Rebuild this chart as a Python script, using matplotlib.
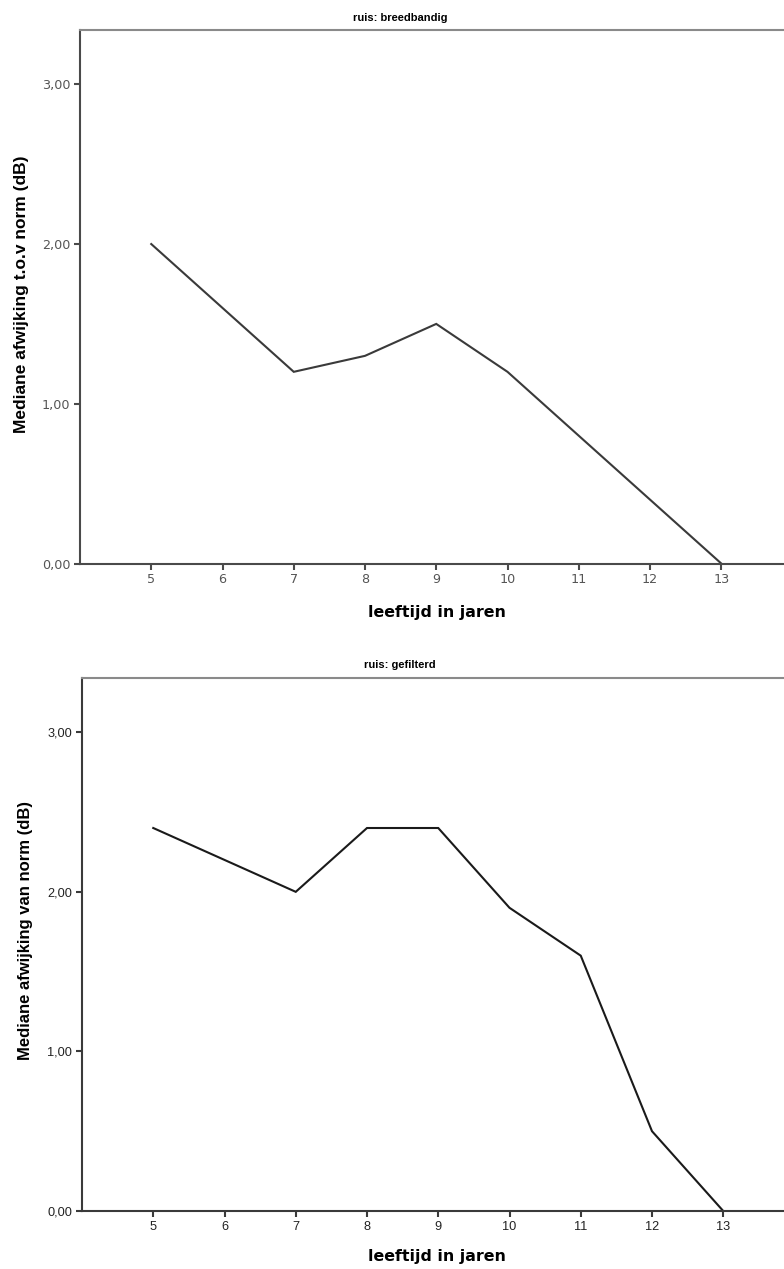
import matplotlib
matplotlib.use("Agg")
import matplotlib.pyplot as plt

ages = [5, 6, 7, 8, 9, 10, 11, 12, 13]
breedbandig = [2.0, 1.6, 1.2, 1.3, 1.5, 1.2, 0.8, 0.4, 0.0]
gefilterd = [2.4, 2.2, 2.0, 2.4, 2.4, 1.9, 1.6, 0.5, 0.0]
yticks = [0.0, 1.0, 2.0, 3.0]
ytick_labels = ["0,00", "1,00", "2,00", "3,00"]

W, H = 784, 1269
fig = plt.figure(figsize=(W / 100, H / 100), dpi=100)


def make_panel(left_px, top_px, bottom_px, data, line_color, spine_color, tick_font,
               tick_color, ylabel, title, title_y_px, xlabel_y_px, xlabel_font,
               ylabel_x_px, ylabel_y_px, ylabel_size):
    ax = fig.add_axes([left_px / W, 1 - bottom_px / H, 712.5 / W, (bottom_px - top_px) / H])
    ax.plot(ages, data, color=line_color, lw=1.5, solid_joinstyle="miter")
    ax.set_xlim(4, 14)
    ax.set_ylim(0, 3.34)
    ax.set_xticks(ages)
    ax.set_xticklabels([str(a) for a in ages], fontfamily=tick_font, fontsize=9.2, color=tick_color)
    ax.set_yticks(yticks)
    ax.set_yticklabels(ytick_labels, fontfamily=tick_font, fontsize=9.2, color=tick_color)
    ax.tick_params(direction="out", length=4, width=1.5, color=spine_color, pad=3)
    for s in ["left", "bottom"]:
        ax.spines[s].set_color(spine_color)
        ax.spines[s].set_linewidth(1.5)
    ax.spines["top"].set_color("#8a8a8a")
    ax.spines["top"].set_linewidth(1.5)
    ax.spines["right"].set_visible(False)
    fig.text(400 / W, 1 - title_y_px / H, title, ha="center", va="center",
             fontsize=8, fontweight="bold", family="Liberation Sans")
    fig.text(437 / W, 1 - xlabel_y_px / H, "leeftijd in jaren", ha="center", va="center",
             fontsize=11.4, fontweight="bold", family=xlabel_font)
    fig.text(ylabel_x_px / W, 1 - ylabel_y_px / H, ylabel, ha="center", va="center",
             rotation=90, fontsize=ylabel_size, fontweight="bold", family="Liberation Sans")
    return ax


make_panel(80, 30, 563.5, breedbandig, "#3a3a3a", "#4a4a4a", "DejaVu Sans", "#555555",
           "Mediane afwijking t.o.v norm (dB)", "ruis: breedbandig", 18, 612, "DejaVu Sans",
           22, 294, 12.5)
make_panel(82, 678, 1211, gefilterd, "#1a1a1a", "#3a3a3a", "Liberation Sans", "#222222",
           "Mediane afwijking van norm (dB)", "ruis: gefilterd", 665, 1257, "DejaVu Sans",
           26, 931, 12)

fig.savefig("out.png", dpi=100)
